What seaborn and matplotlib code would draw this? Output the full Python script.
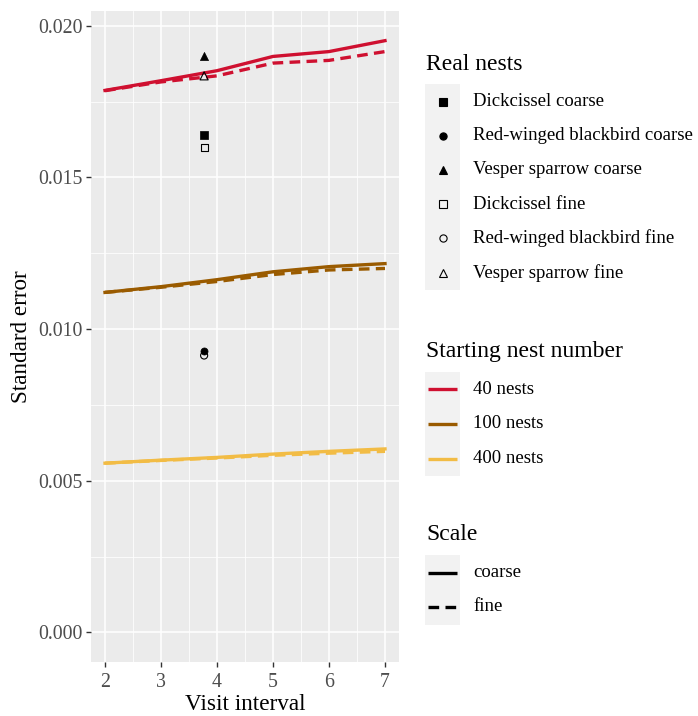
import numpy as np
import pandas as pd
import matplotlib
matplotlib.use("Agg")
import matplotlib.pyplot as plt
import seaborn as sns
from matplotlib.patches import Rectangle
from matplotlib.ticker import MultipleLocator

# ---------------- data ----------------
visit_interval = [2, 3, 4, 5, 6, 7]
nest_levels = ["40 nests", "100 nests", "400 nests"]
scale_levels = ["coarse", "fine"]

se_40_coarse = [0.01787, 0.01819, 0.01852, 0.01899, 0.01915, 0.01951]
se_40_fine = [0.01786, 0.01815, 0.01835, 0.01877, 0.01886, 0.01915]
se_100_coarse = [0.01121, 0.01140, 0.01163, 0.01189, 0.01206, 0.01216]
se_100_fine = [0.01121, 0.01138, 0.01157, 0.01180, 0.01195, 0.01200]
se_400_coarse = [0.00558, 0.00568, 0.00577, 0.00588, 0.00597, 0.00605]
se_400_fine = [0.00558, 0.00567, 0.00575, 0.00584, 0.00591, 0.00597]

real_labels = ["Dickcissel coarse", "Red-winged blackbird coarse", "Vesper sparrow coarse",
               "Dickcissel fine", "Red-winged blackbird fine", "Vesper sparrow fine"]
real_interval = [3.77, 3.77, 3.77, 3.77, 3.77, 3.77]
real_se = [0.01641, 0.00929, 0.01902, 0.01600, 0.00913, 0.01835]

nest_colors = {"40 nests": "#CF1030", "100 nests": "#9A5B00", "400 nests": "#F2BC45"}

# ---------------- build tables ----------------
series = {
    ("40 nests", "coarse"): se_40_coarse, ("40 nests", "fine"): se_40_fine,
    ("100 nests", "coarse"): se_100_coarse, ("100 nests", "fine"): se_100_fine,
    ("400 nests", "coarse"): se_400_coarse, ("400 nests", "fine"): se_400_fine,
}
rows = []
for (n, s), vals in series.items():
    for x, y in zip(visit_interval, vals):
        rows.append({"interval": x, "se": y, "nests": n, "scale": s})
df = pd.DataFrame(rows)

pts = pd.DataFrame({"interval": real_interval, "se": real_se, "label": real_labels})
pts["filled"] = pts["label"].str.endswith("coarse")

# ---------------- figure ----------------
W, H = 698, 716
fig = plt.figure(figsize=(W / 100, H / 100), dpi=100)
plt.rcParams["font.family"] = ["Liberation Serif", "DejaVu Serif"]

L, R, T, B = 91, 399, 11, 662
ax = fig.add_axes([L / W, 1 - B / H, (R - L) / W, (B - T) / H])
ax.set_facecolor("#EBEBEB")

sns.lineplot(data=df, x="interval", y="se", hue="nests", style="scale",
             hue_order=nest_levels, style_order=scale_levels,
             palette=nest_colors, dashes={"coarse": "", "fine": (3.2, 1.9)},
             linewidth=2.4, legend=False, ax=ax, zorder=3)

marker_map = {"Dickcissel": "s", "Red-winged blackbird": "o", "Vesper sparrow": "^"}
for _, r in pts.iterrows():
    sp = r["label"].rsplit(" ", 1)[0]
    m = marker_map[sp]
    sz = 34 if m == "^" else 26
    if r["filled"]:
        ax.scatter([r["interval"]], [r["se"]], marker=m, s=sz, c="black",
                   edgecolors="black", linewidths=0.5, zorder=4)
    else:
        ax.scatter([r["interval"]], [r["se"]], marker=m, s=sz, facecolors="none",
                   edgecolors="black", linewidths=0.8, zorder=4)

ax.set_xlim(1.75, 7.25)
ax.set_ylim(-0.000975, 0.020488)
ax.xaxis.set_major_locator(MultipleLocator(1))
ax.xaxis.set_minor_locator(MultipleLocator(0.5))
ax.yaxis.set_major_locator(MultipleLocator(0.005))
ax.yaxis.set_minor_locator(MultipleLocator(0.0025))
ax.yaxis.set_major_formatter(matplotlib.ticker.FormatStrFormatter("%.3f"))
ax.grid(which="major", color="white", linewidth=1.1, zorder=0)
ax.grid(which="minor", color="white", linewidth=0.55, zorder=0)
ax.set_axisbelow(True)
for sp in ax.spines.values():
    sp.set_visible(False)
ax.tick_params(which="major", length=3.6, width=1.0, color="#333333",
               labelsize=14.3, labelcolor="#4D4D4D")
ax.tick_params(axis="x", which="major", pad=4.0)
ax.tick_params(axis="y", which="major", pad=2.5)
ax.tick_params(which="minor", length=0)
ax.set_xlabel("Visit interval", fontsize=16.7, color="black", labelpad=1.5)
ax.set_ylabel("Standard error", fontsize=16.7, color="black", labelpad=4)

# ---------------- legends (figure pixel coords) ----------------
lg = fig.add_axes([0, 0, 1, 1], zorder=5)
lg.set_xlim(0, W)
lg.set_ylim(H, 0)
lg.axis("off")
lg.patch.set_alpha(0)

key_x0, key_x1 = 425, 460
label_x = 473
title_fs = 17
label_fs = 13.5

# Real nests
lg.text(426, 70, "Real nests", fontsize=title_fs, va="baseline", ha="left")
rows_y = [101.7, 135.8, 170.0, 204.2, 238.4, 272.6]
lg.add_patch(Rectangle((key_x0, 84), key_x1 - key_x0, 206, facecolor="#F2F2F2", edgecolor="none"))
for lab, yy in zip(real_labels, rows_y):
    sp = lab.rsplit(" ", 1)[0]
    m = marker_map[sp]
    filled = lab.endswith("coarse")
    sz = 6.2 if m == "^" else 5.2
    lg.plot([(key_x0 + key_x1) / 2], [yy], marker=m, markersize=sz,
            markerfacecolor="black" if filled else "none", markeredgecolor="black",
            markeredgewidth=0.8, linestyle="none")
    lg.text(label_x, yy, lab, fontsize=label_fs, va="center", ha="left")

# Starting nest number
lg.text(426, 356.7, "Starting nest number", fontsize=title_fs, va="baseline", ha="left")
lg.add_patch(Rectangle((key_x0, 372), key_x1 - key_x0, 104, facecolor="#F2F2F2", edgecolor="none"))
for lab, yy in zip(nest_levels, [389.3, 424.0, 458.7]):
    lg.plot([428, 457], [yy, yy], color=nest_colors[lab], linewidth=2.4, solid_capstyle="butt")
    lg.text(label_x, yy, lab, fontsize=label_fs, va="center", ha="left")

# Scale
lg.text(426, 540, "Scale", fontsize=title_fs, va="baseline", ha="left")
lg.add_patch(Rectangle((key_x0, 555), key_x1 - key_x0, 70, facecolor="#F2F2F2", edgecolor="none"))
for lab, yy in zip(scale_levels, [572.7, 606.7]):
    ls = "-" if lab == "coarse" else (0, (3.2, 1.9))
    lg.plot([428, 457], [yy, yy], color="black", linewidth=2.4, linestyle=ls, solid_capstyle="butt",
            dash_capstyle="butt")
    lg.text(label_x, yy, lab, fontsize=label_fs, va="center", ha="left")

fig.savefig("out.png", dpi=100, facecolor="white")
